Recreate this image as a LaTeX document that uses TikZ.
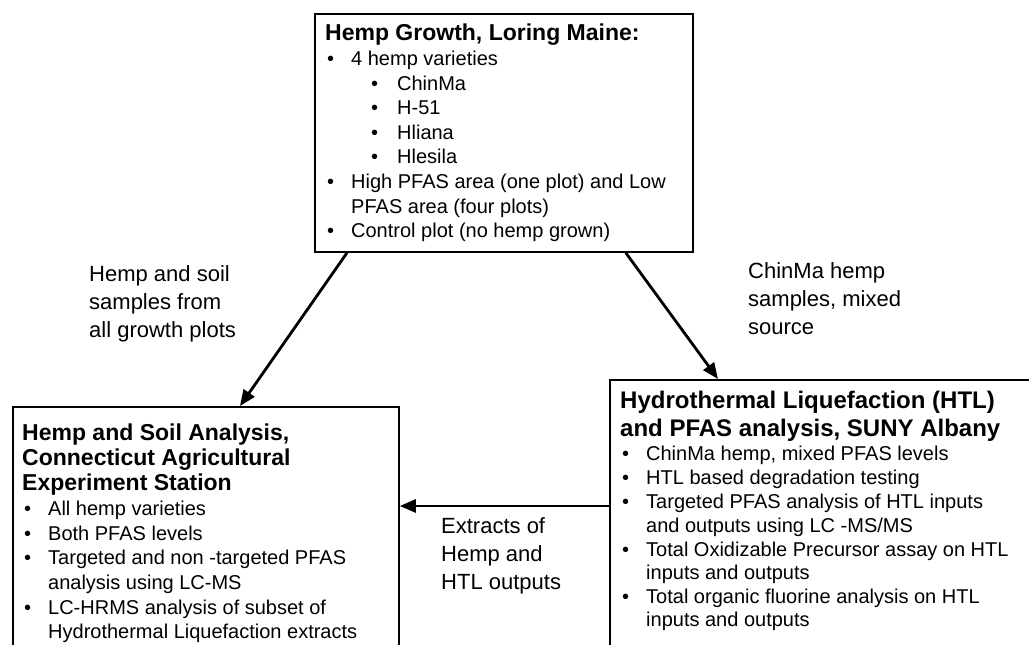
\documentclass[tikz,border=0pt]{standalone}
\usepackage{fontspec}
\setmainfont{Liberation Sans}
\usetikzlibrary{arrows.meta,calc}
\newcommand{\bul}{\makebox[26pt][l]{\hspace*{2pt}•}}
\newcommand{\sbul}{\hspace*{46pt}\makebox[26pt][l]{•}}
\newcommand{\cont}{\hspace*{26pt}}
\begin{document}
\begin{tikzpicture}[x=1pt,y=-1pt,
  box/.style={draw,line width=1.8pt,rectangle,inner sep=0pt,anchor=north west},
  txt/.style={anchor=north west,inner sep=0pt,align=left,font=\fontsize{20}{24.6}\selectfont},
  lbl/.style={anchor=north west,inner sep=0pt,align=left,font=\fontsize{22}{28}\selectfont},
  arr/.style={line width=2.8pt,-{Triangle[length=16pt,width=13pt]}}]
\useasboundingbox (0,0) rectangle (1029,645);
\clip (0,0) rectangle (1029,645);
% boxes
\node[box,minimum width=378pt,minimum height=238pt] (top) at (314,13) {};
\node[box,minimum width=386pt,minimum height=300pt] (left) at (12,406) {};
\node[box,minimum width=450pt,minimum height=300pt] (right) at (609,379) {};
% texts
\node[txt] (toptext) at (325,24) {{\bfseries\fontsize{23}{24.6}\selectfont Hemp Growth, Loring Maine:}\\
\bul 4 hemp varieties\\
\sbul ChinMa\\
\sbul H-51\\
\sbul Hliana\\
\sbul Hlesila\\
\bul High PFAS area (one plot) and Low\\
\cont PFAS area (four plots)\\
\bul Control plot (no hemp grown)};
\node[txt] (lefttext) at (22,424) {{\bfseries\fontsize{23}{24.9}\selectfont Hemp and Soil Analysis,}\\
{\bfseries\fontsize{23}{24.9}\selectfont Connecticut Agricultural}\\
{\bfseries\fontsize{23}{24.9}\selectfont Experiment Station}\\[1pt]
\bul All hemp varieties\\
\bul Both PFAS levels\\
\bul Targeted and non -targeted PFAS\\
\cont analysis using LC-MS\\
\bul LC-HRMS analysis of subset of\\
\cont Hydrothermal Liquefaction extracts};
\node[txt,font=\fontsize{20}{23.5}\selectfont] (righttext) at (620,391) {{\bfseries\fontsize{24}{28}\selectfont Hydrothermal Liquefaction (HTL)}\\[4pt]
{\bfseries\fontsize{24}{28}\selectfont and PFAS analysis, SUNY Albany}\\[1pt]
\bul ChinMa hemp, mixed PFAS levels\\[0.5pt]
\bul HTL based degradation testing\\[0.5pt]
\bul Targeted PFAS analysis of HTL inputs\\[0.5pt]
\cont and outputs using LC -MS/MS\\
\bul Total Oxidizable Precursor assay on HTL\\
\cont inputs and outputs\\
\bul Total organic fluorine analysis on HTL\\
\cont inputs and outputs};
% labels
\node[lbl] (l1) at (89,265) {Hemp and soil\\samples from\\all growth plots};
\node[lbl] (l2) at (748,262) {ChinMa hemp\\samples, mixed\\source};
\node[lbl] (l3) at (441,517) {Extracts of\\Hemp and\\HTL outputs};
% arrows
\draw[arr] ($(top.south west)+(33,0)$) -- ($(left.north west)+(228,0)$);
\draw[arr] ($(top.south east)+(-68,0)$) -- ($(right.north west)+(109,0)$);
\draw[arr] ($(right.north west)+(0,127)$) -- ($(left.north east)+(0,100)$);
\end{tikzpicture}
\end{document}
